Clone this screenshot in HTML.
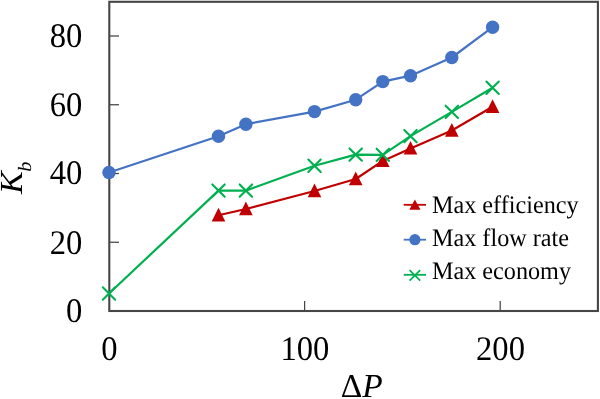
<!DOCTYPE html>
<html><head><meta charset="utf-8"><title>Chart</title>
<style>
html,body{margin:0;padding:0;background:#fff;}
body{width:600px;height:399px;overflow:hidden;}
svg{display:block;}
text{text-rendering:geometricPrecision;font-family:"Liberation Serif","Times New Roman",serif;fill:#000;}
</style></head><body>
<svg width="600" height="399" viewBox="0 0 600 399">
<rect width="600" height="399" fill="#fff"/>

<g stroke="#444444" stroke-width="1.25" fill="none">
<line x1="109" y1="242.25" x2="119" y2="242.25"/>
<line x1="109" y1="173.50" x2="119" y2="173.50"/>
<line x1="109" y1="104.75" x2="119" y2="104.75"/>
<line x1="109" y1="36.00" x2="119" y2="36.00"/>
<line x1="304.60" y1="301" x2="304.60" y2="311"/>
<line x1="500.20" y1="301" x2="500.20" y2="311"/>
</g>
<rect x="109.3" y="1.8" width="488.6" height="309.2" fill="none" stroke="#464646" stroke-width="2.1"/>
<polyline points="218.5,215.2 245.9,209.0 314.5,191.0 355.7,179.0 382.8,160.9 410.5,148.4 451.8,130.5 492.6,106.7" fill="none" stroke="#C00000" stroke-width="2.2" stroke-linejoin="round"/>
<g fill="#C00000">
<path d="M218.5 207.8L225.3 221.4L211.7 221.4Z"/>
<path d="M245.9 201.6L252.7 215.2L239.1 215.2Z"/>
<path d="M314.5 183.6L321.3 197.2L307.7 197.2Z"/>
<path d="M355.7 171.6L362.5 185.2L348.9 185.2Z"/>
<path d="M382.8 153.5L389.6 167.1L376.0 167.1Z"/>
<path d="M410.5 141.0L417.3 154.6L403.7 154.6Z"/>
<path d="M451.8 123.1L458.6 136.7L445.0 136.7Z"/>
<path d="M492.6 99.3L499.4 112.9L485.8 112.9Z"/>
</g>
<polyline points="109.0,172.5 218.5,136.2 245.9,124.2 314.5,111.6 355.7,99.7 382.8,81.6 410.5,75.7 451.8,57.5 492.6,27.2" fill="none" stroke="#4472C4" stroke-width="2.2" stroke-linejoin="round"/>
<g fill="#4472C4">
<circle cx="109.0" cy="172.5" r="6.7"/>
<circle cx="218.5" cy="136.2" r="6.7"/>
<circle cx="245.9" cy="124.2" r="6.7"/>
<circle cx="314.5" cy="111.6" r="6.7"/>
<circle cx="355.7" cy="99.7" r="6.7"/>
<circle cx="382.8" cy="81.6" r="6.7"/>
<circle cx="410.5" cy="75.7" r="6.7"/>
<circle cx="451.8" cy="57.5" r="6.7"/>
<circle cx="492.6" cy="27.2" r="6.7"/>
</g>
<polyline points="109.0,293.5 218.5,190.6 245.9,190.6 314.5,165.8 355.7,154.6 382.8,154.9 410.5,136.1 451.8,111.9 492.6,87.7" fill="none" stroke="#00B050" stroke-width="2.2" stroke-linejoin="round"/>
<g stroke="#00B050" stroke-width="2.1" fill="none" stroke-linecap="round">
<path d="M102.8 287.3L115.2 299.7M102.8 299.7L115.2 287.3"/>
<path d="M212.3 184.4L224.7 196.8M212.3 196.8L224.7 184.4"/>
<path d="M239.7 184.4L252.1 196.8M239.7 196.8L252.1 184.4"/>
<path d="M308.3 159.6L320.7 172.0M308.3 172.0L320.7 159.6"/>
<path d="M349.5 148.4L361.9 160.8M349.5 160.8L361.9 148.4"/>
<path d="M376.6 148.7L389.0 161.1M376.6 161.1L389.0 148.7"/>
<path d="M404.3 129.9L416.7 142.3M404.3 142.3L416.7 129.9"/>
<path d="M445.6 105.7L458.0 118.1M445.6 118.1L458.0 105.7"/>
<path d="M486.4 81.5L498.8 93.9M486.4 93.9L498.8 81.5"/>
</g>
<text transform="translate(82.3,322) scale(0.945,1)" font-size="34.5" text-anchor="end">0</text>
<text transform="translate(82.3,254) scale(0.945,1)" font-size="34.5" text-anchor="end">20</text>
<text transform="translate(82.3,184) scale(0.945,1)" font-size="34.5" text-anchor="end">40</text>
<text transform="translate(82.3,116) scale(0.945,1)" font-size="34.5" text-anchor="end">60</text>
<text transform="translate(82.3,47) scale(0.945,1)" font-size="34.5" text-anchor="end">80</text>
<text transform="translate(109.3,360) scale(0.945,1)" font-size="34.5" text-anchor="middle">0</text>
<text transform="translate(304.9,360) scale(0.945,1)" font-size="34.5" text-anchor="middle">100</text>
<text transform="translate(500.5,360) scale(0.945,1)" font-size="34.5" text-anchor="middle">200</text>
<text x="361.8" y="397" font-size="33.5" text-anchor="middle">Δ<tspan font-style="italic">P</tspan></text>
<text transform="translate(22.1,194) rotate(-90) scale(1,0.945)" font-size="34" font-style="italic">K<tspan font-size="20" dy="9.2" dx="-0.3">b</tspan></text>
<line x1="403.7" y1="204.8" x2="426" y2="204.8" stroke="#C00000" stroke-width="1.8"/>
<path d="M414.9 199.60000000000002L420.5 209.8L409.3 209.8Z" fill="#C00000"/>
<line x1="403.7" y1="239.7" x2="426" y2="239.7" stroke="#4472C4" stroke-width="1.8"/>
<circle cx="414.9" cy="239.7" r="5.6" fill="#4472C4"/>
<line x1="403.7" y1="274.8" x2="426" y2="274.8" stroke="#00B050" stroke-width="1.8"/>
<path d="M409.6 270.1L420.2 280.7M409.6 280.7L420.2 270.1" stroke="#00B050" stroke-width="1.7" fill="none"/>
<text transform="translate(432.0,213) scale(0.96,1)" font-size="25.2">Max efficiency</text>
<text transform="translate(432.0,246) scale(0.96,1)" font-size="25.2">Max flow rate</text>
<text transform="translate(432.0,279) scale(0.96,1)" font-size="25.2">Max economy</text>
</svg></body></html>
